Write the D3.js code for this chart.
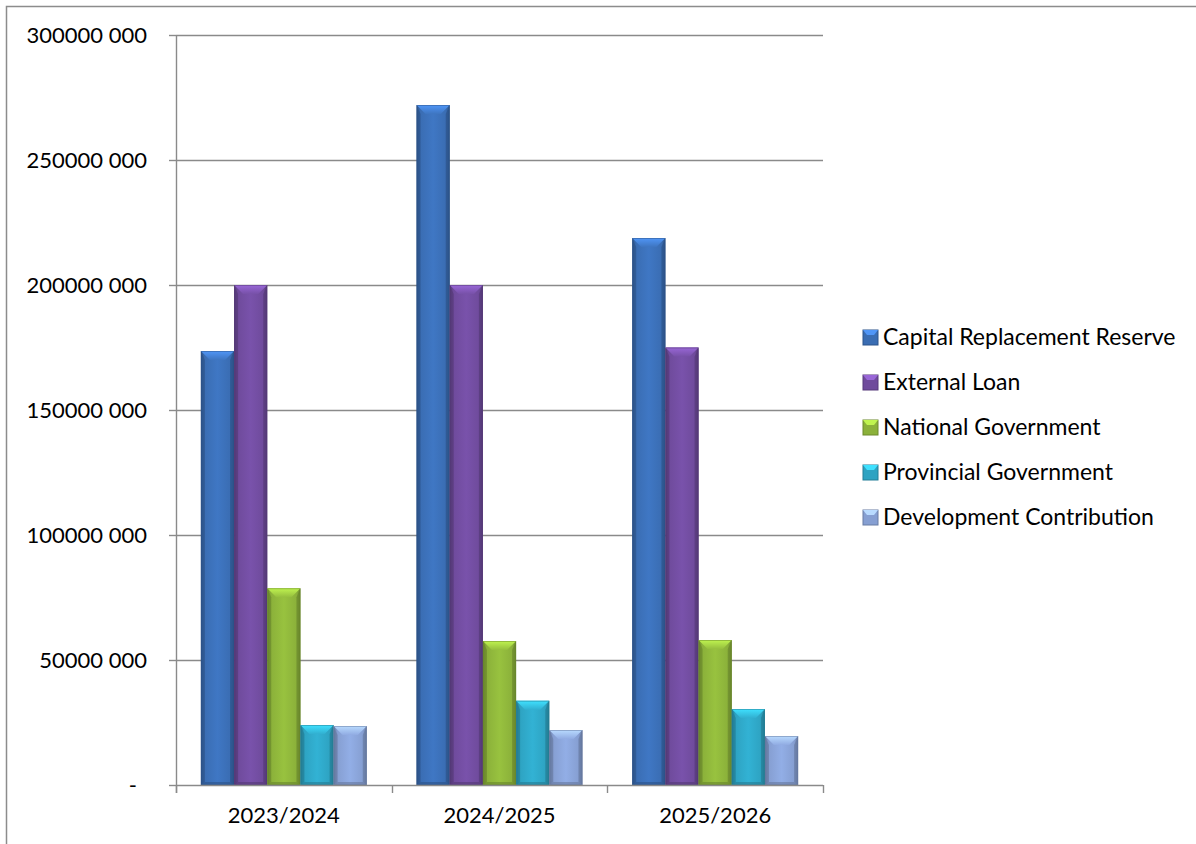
<!DOCTYPE html>
<html>
<head>
<meta charset="utf-8">
<script src="https://cdn.jsdelivr.net/npm/d3@7"></script>
<style>
  html, body { margin: 0; padding: 0; background: #ffffff; }
  svg { display: block; font-family: Lato, "Open Sans", sans-serif; }
</style>
</head>
<body>
<svg id="chart" width="1196" height="844"></svg>
<script>
// Financial years on the category axis
const categories = ["2023/2024", "2024/2025", "2025/2026"];

// Funding sources (series)
const seriesNames = [
  "Capital Replacement Reserve",
  "External Loan",
  "National Government",
  "Provincial Government",
  "Development Contribution"
];

// Amounts per funding source, one value per financial year
const capitalReplacementReserve = [173600000, 272000000, 218800000];
const externalLoan             = [200000000, 200000000, 175000000];
const nationalGovernment       = [78700000, 57600000, 58000000];
const provincialGovernment     = [24000000, 33700000, 30400000];
const developmentContribution  = [23600000, 22000000, 19600000];

// Value axis ticks and their labels
const yTicks = [0, 50000000, 100000000, 150000000, 200000000, 250000000, 300000000];
const yTickLabels = ["-", "50000 000", "100000 000", "150000 000", "200000 000", "250000 000", "300000 000"];

const seriesValues = [
  capitalReplacementReserve,
  externalLoan,
  nationalGovernment,
  provincialGovernment,
  developmentContribution
];

const seriesColors = ["#3a6db3", "#6f4b9c", "#8bb13a", "#2ea3c2", "#869fd2"];

const svg = d3.select("#chart");
const defs = svg.append("defs");

// Plot geometry
const plot = { left: 176, right: 823, top: 35, bottom: 785 };

const y = d3.scaleLinear().domain([0, 300000000]).range([plot.bottom, plot.top]);
const x0 = d3.scaleBand().domain(categories).range([plot.left, plot.right]).padding(0);
const x1 = d3.scaleBand().domain(seriesNames).range([0, x0.bandwidth()])
  .paddingInner(0).paddingOuter(0.75);

// Outer chart frame (runs off the right and bottom edges)
svg.append("rect")
  .attr("x", 6.5).attr("y", 6.5)
  .attr("width", 1300).attr("height", 900)
  .attr("fill", "none").attr("stroke", "#8c8c8c").attr("stroke-width", 1.5);

// Horizontal gridlines
svg.append("g").selectAll("line")
  .data(yTicks.filter(d => d > 0))
  .join("line")
  .attr("x1", plot.left).attr("x2", plot.right)
  .attr("y1", d => Math.round(y(d)) + 0.5).attr("y2", d => Math.round(y(d)) + 0.5)
  .attr("stroke", "#8a8a8a").attr("stroke-width", 1.4);

// Gradients giving each series a bevelled look
seriesColors.forEach((c, i) => {
  const base = d3.color(c);
  const dark = base.darker(0.6);
  const light = base.brighter(0.25);
  const g = defs.append("linearGradient").attr("id", "body" + i)
    .attr("x1", "0").attr("x2", "1").attr("y1", "0").attr("y2", "0");
  g.append("stop").attr("offset", "0%").attr("stop-color", dark);
  g.append("stop").attr("offset", "12%").attr("stop-color", base);
  g.append("stop").attr("offset", "50%").attr("stop-color", light);
  g.append("stop").attr("offset", "88%").attr("stop-color", base);
  g.append("stop").attr("offset", "100%").attr("stop-color", dark);

  const t = defs.append("linearGradient").attr("id", "top" + i)
    .attr("x1", "0").attr("x2", "0").attr("y1", "0").attr("y2", "1");
  t.append("stop").attr("offset", "0%").attr("stop-color", base.brighter(0.9));
  t.append("stop").attr("offset", "100%").attr("stop-color", base.brighter(0.2));
});

// Bars
const barData = [];
categories.forEach((cat, ci) => {
  seriesNames.forEach((s, si) => {
    barData.push({ cat, s, si, v: seriesValues[si][ci] });
  });
});

const bars = svg.append("g").selectAll("g.bar")
  .data(barData)
  .join("g").attr("class", "bar");

bars.each(function (d) {
  const g = d3.select(this);
  const bx = x0(d.cat) + x1(d.s);
  const bw = x1.bandwidth();
  const by = y(d.v);
  const bh = y(0) - y(d.v);
  const base = d3.color(seriesColors[d.si]);
  const bt = Math.min(9, bh / 2);   // top bevel depth
  const bs = 4;                      // side bevel width

  g.append("rect")
    .attr("x", bx).attr("y", by).attr("width", bw).attr("height", bh)
    .attr("fill", `url(#body${d.si})`);

  // side edges
  g.append("polygon")
    .attr("points", [[bx, by], [bx + bs, by + bt], [bx + bs, by + bh - 3], [bx, by + bh]].join(" "))
    .attr("fill", base.darker(0.9)).attr("opacity", 0.55);
  g.append("polygon")
    .attr("points", [[bx + bw, by], [bx + bw - bs, by + bt], [bx + bw - bs, by + bh - 3], [bx + bw, by + bh]].join(" "))
    .attr("fill", base.darker(0.9)).attr("opacity", 0.55);

  // bottom edge
  g.append("polygon")
    .attr("points", [[bx, by + bh], [bx + bw, by + bh], [bx + bw - bs, by + bh - 3], [bx + bs, by + bh - 3]].join(" "))
    .attr("fill", base.darker(0.8)).attr("opacity", 0.6);

  // top bevel face
  g.append("polygon")
    .attr("points", [[bx, by], [bx + bw, by], [bx + bw - bt, by + bt], [bx + bt, by + bt]].join(" "))
    .attr("fill", `url(#top${d.si})`);

  // thin outline
  g.append("rect")
    .attr("x", bx + 0.5).attr("y", by + 0.5).attr("width", bw - 1).attr("height", Math.max(0, bh - 1))
    .attr("fill", "none").attr("stroke", base.darker(0.8)).attr("stroke-opacity", 0.5).attr("stroke-width", 1);
});

// Value axis line and ticks
const axisColor = "#8a8a8a";
svg.append("line")
  .attr("x1", plot.left + 0.5).attr("x2", plot.left + 0.5)
  .attr("y1", plot.top).attr("y2", plot.bottom + 8)
  .attr("stroke", axisColor).attr("stroke-width", 1.4);

svg.append("g").selectAll("line")
  .data(yTicks)
  .join("line")
  .attr("x1", plot.left - 7).attr("x2", plot.left)
  .attr("y1", d => Math.round(y(d)) + 0.5).attr("y2", d => Math.round(y(d)) + 0.5)
  .attr("stroke", axisColor).attr("stroke-width", 1.4);

// accounting-style labels: the zero dash sits inset from the digits' right edge
svg.append("g").selectAll("text")
  .data(yTicks)
  .join("text")
  .attr("x", d => d === 0 ? 137 : 147)
  .attr("y", d => y(d))
  .attr("dy", "0.35em")
  .attr("text-anchor", "end")
  .attr("font-size", 22)
  .attr("fill", "#000")
  .text((d, i) => yTickLabels[i]);

// Category axis line, ticks and labels
svg.append("line")
  .attr("x1", plot.left).attr("x2", plot.right)
  .attr("y1", plot.bottom + 0.5).attr("y2", plot.bottom + 0.5)
  .attr("stroke", axisColor).attr("stroke-width", 1.4);

const catEdges = categories.map(c => x0(c)).concat([plot.right]);
svg.append("g").selectAll("line")
  .data(catEdges)
  .join("line")
  .attr("x1", d => Math.round(d) + 0.5).attr("x2", d => Math.round(d) + 0.5)
  .attr("y1", plot.bottom).attr("y2", plot.bottom + 8)
  .attr("stroke", axisColor).attr("stroke-width", 1.4);

svg.append("g").selectAll("text")
  .data(categories)
  .join("text")
  .attr("x", d => x0(d) + x0.bandwidth() / 2)
  .attr("y", 823)
  .attr("text-anchor", "middle")
  .attr("font-size", 22)
  .attr("fill", "#000")
  .text(d => d);

// Legend
const legend = svg.append("g").attr("transform", "translate(863, 337)");
const items = legend.selectAll("g")
  .data(seriesNames)
  .join("g")
  .attr("transform", (d, i) => `translate(0, ${i * 45})`);

items.each(function (d, i) {
  const g = d3.select(this);
  const base = d3.color(seriesColors[i]);
  g.append("rect").attr("x", 0).attr("y", -7).attr("width", 15).attr("height", 15)
    .attr("fill", base).attr("stroke", base.darker(0.7)).attr("stroke-width", 1);
  g.append("polygon")
    .attr("points", [[0, -7], [15, -7], [11, -2], [4, -2]].join(" "))
    .attr("fill", base.brighter(0.9));
});

items.append("text")
  .attr("x", 20)
  .attr("y", 0)
  .attr("dy", "0.35em")
  .attr("font-size", 23)
  .attr("fill", "#000")
  .text(d => d);
</script>
</body>
</html>
